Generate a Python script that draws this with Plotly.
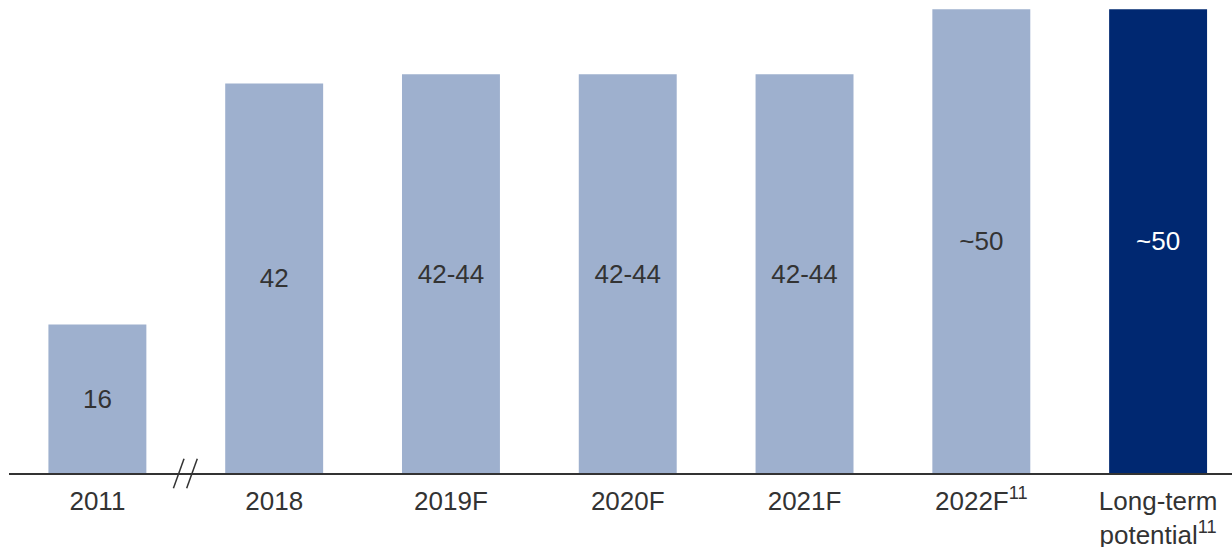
import plotly.graph_objects as go

categories = ["2011", "2018", "2019F", "2020F", "2021F", "2022F<sup>11</sup>", "Long-term<br>potential<sup>11</sup>"]
values = [16, 42, 43, 43, 43, 50, 50]
labels = ["16", "42", "42-44", "42-44", "42-44", "~50", "~50"]
bar_colors = ["#9EB0CE"] * 6 + ["#002871"]
text_colors = ["#333333"] * 6 + ["#FFFFFF"]

xs = list(range(len(categories)))

fig = go.Figure()
fig.add_trace(go.Bar(
    x=xs, y=values, text=labels,
    marker=dict(color=bar_colors, line=dict(width=0)),
    textposition="inside", insidetextanchor="middle",
    textfont=dict(family="Liberation Sans, Arial, sans-serif", size=26, color=text_colors),
    constraintext="none", hoverinfo="skip",
))

# axis break marks between 2011 and 2018
for dx in (-0.04, 0.035):
    fig.add_shape(type="line", xref="x", yref="paper",
                  x0=0.5 + dx - 0.03, x1=0.5 + dx + 0.03, y0=-0.032, y1=0.03,
                  line=dict(color="#333333", width=1.5))

fig.update_layout(
    width=1232, height=547,
    margin=dict(l=9, r=0, t=0, b=74, autoexpand=False),
    paper_bgcolor="white", plot_bgcolor="white",
    bargap=0.446, showlegend=False,
    font=dict(family="Liberation Sans, Arial, sans-serif", color="#333333"),
)
fig.update_xaxes(
    tickmode="array", tickvals=xs, ticktext=categories,
    range=[-0.5, 6.418], showline=True, linecolor="#333333", linewidth=1.5,
    showgrid=False, zeroline=False, ticks="", automargin=False,
    ticklabelstandoff=4,
    tickfont=dict(family="Liberation Sans, Arial, sans-serif", size=26, color="#333333"),
)
fig.update_yaxes(range=[0, 51.0], visible=False, showgrid=False, zeroline=False, automargin=False)

fig.write_html("out.html", config={"displayModeBar": False},
               post_script="document.body.style.margin='0';document.body.style.overflow='hidden';")
